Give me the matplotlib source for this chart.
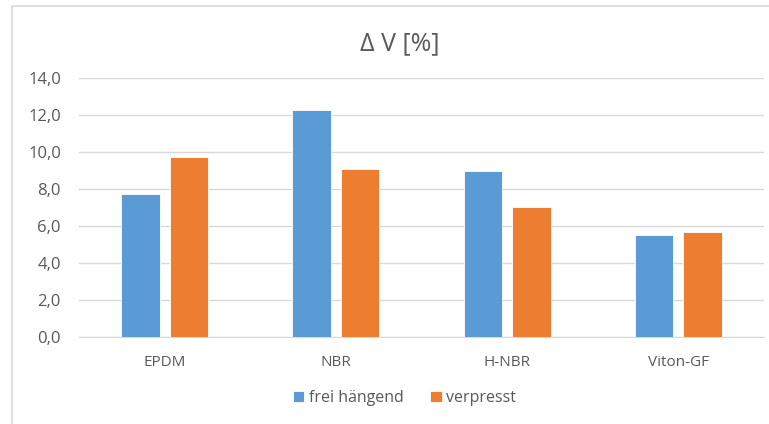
import matplotlib.pyplot as plt
import numpy as np
from matplotlib.patches import Rectangle
from matplotlib.ticker import FuncFormatter

plt.rcParams['font.family'] = ['Open Sans', 'DejaVu Sans']

# Volume change per material
materials = ['EPDM', 'NBR', 'H-NBR', 'Viton-GF']
frei_haengend = [7.75, 12.25, 9.0, 5.5]
verpresst = [9.75, 9.1, 7.05, 5.65]
series_names = ['frei hängend', 'verpresst']

blue = '#5B9BD5'
orange = '#ED7D31'
grey = '#595959'

fig = plt.figure(figsize=(7.69, 4.24), dpi=100)
fig.patch.set_facecolor('white')

# outer chart border (runs off the right and bottom edge)
fig.patches.append(Rectangle((12 / 769, -0.1), 1.2, 1 - 6 / 424 + 0.1,
                             transform=fig.transFigure, fill=False,
                             edgecolor='#D9D9D9', lw=1.2))

ax = fig.add_axes([79 / 769, 1 - 337 / 424, 685 / 769, 259 / 424])

x = np.arange(len(materials))
w = 0.225
off = 0.142
ax.bar(x - off, frei_haengend, w, color=blue, edgecolor='white', lw=0.6,
       label=series_names[0], zorder=3)
ax.bar(x + off, verpresst, w, color=orange, edgecolor='white', lw=0.6,
       label=series_names[1], zorder=3)

ax.set_xlim(-0.5, len(materials) - 0.5)
ax.set_ylim(0, 14)
ax.set_yticks(np.arange(0, 15, 2))
ax.yaxis.set_major_formatter(FuncFormatter(lambda v, p: f'{v:.1f}'.replace('.', ',')))
ax.set_xticks(x)
ax.set_xticklabels(materials)

ax.grid(axis='y', color='#D9D9D9', lw=1, zorder=0)
for s in ['top', 'right', 'left']:
    ax.spines[s].set_visible(False)
ax.spines['bottom'].set_color('#D9D9D9')
ax.tick_params(axis='both', length=0, colors=grey, labelsize=12)
ax.tick_params(axis='x', pad=13, labelsize=11)
ax.tick_params(axis='y', pad=13)

fig.text(0.52, 1 - 44 / 424, 'Δ V [%]', ha='center', va='center',
         fontsize=18, color=grey)

fig.legend(loc='center', bbox_to_anchor=(0.526, 1 - 398 / 424), ncol=2,
           frameon=False, fontsize=11.5, labelcolor=grey, handlelength=0.7,
           handleheight=0.7, handletextpad=0.3, columnspacing=1.7)

fig.savefig('out.png', dpi=100)
